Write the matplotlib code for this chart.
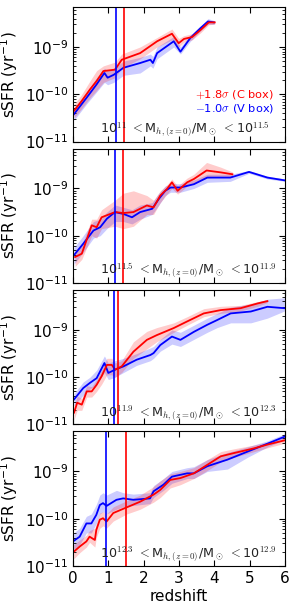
import numpy as np
import matplotlib
matplotlib.use("Agg")
import matplotlib.pyplot as plt

plt.rcParams['axes.unicode_minus'] = False
plt.rcParams['mathtext.fontset'] = 'cm'

# log10 sSFR, per mass bin: redshift, line, band low, band high
p1_red_z = [0.03, 0.25, 0.48, 0.67, 0.86, 1.19, 1.38, 1.90, 2.38, 2.80, 2.99, 3.14, 3.37, 3.61, 3.84, 4.01]
p1_red_m = [-10.35, -10.14, -9.90, -9.72, -9.51, -9.48, -9.27, -9.13, -8.88, -8.72, -8.92, -8.83, -8.79, -8.64, -8.48, -8.48]
p1_red_lo = [-10.5, -10.3, -10.08, -9.92, -9.75, -9.65, -9.45, -9.25, -9.0, -8.85, -9.0, -8.9, -8.85, -8.7, -8.53, -8.52]
p1_red_hi = [-10.22, -10.0, -9.72, -9.5, -9.4, -9.32, -9.15, -9.0, -8.8, -8.62, -8.82, -8.76, -8.72, -8.58, -8.44, -8.45]
p1_blu_z = [0.03, 0.39, 0.67, 0.89, 0.98, 1.15, 1.43, 1.90, 2.19, 2.26, 2.38, 2.85, 3.04, 3.32, 3.61, 3.82, 3.99]
p1_blu_m = [-10.42, -10.07, -9.79, -9.55, -9.65, -9.59, -9.44, -9.34, -9.27, -9.34, -9.13, -8.88, -9.10, -8.81, -8.60, -8.46, -8.48]
p1_blu_lo = [-10.55, -10.2, -9.95, -9.75, -9.8, -9.75, -9.6, -9.55, -9.4, -9.45, -9.25, -9.0, -9.15, -8.88, -8.66, -8.52, -8.52]
p1_blu_hi = [-10.3, -9.95, -9.65, -9.45, -9.5, -9.45, -9.3, -9.22, -9.15, -9.2, -9.0, -8.78, -9.0, -8.75, -8.55, -8.4, -8.44]

p2_red_z = [0.06, 0.25, 0.53, 0.67, 0.81, 1.19, 1.43, 1.71, 2.09, 2.28, 2.47, 2.66, 2.80, 2.96, 3.23, 3.42, 3.78, 4.18, 4.51]
p2_red_m = [-10.45, -10.38, -9.78, -9.82, -9.61, -9.50, -9.52, -9.50, -9.36, -9.40, -9.15, -9.01, -8.87, -9.05, -8.87, -8.80, -8.62, -8.66, -8.70]
p2_red_lo = [-10.65, -10.5, -10.0, -10.05, -9.85, -9.8, -9.85, -9.8, -9.55, -9.55, -9.3, -9.12, -9.0, -9.12, -8.95, -8.9, -8.78, -8.75, -8.75]
p2_red_hi = [-10.3, -10.2, -9.65, -9.65, -9.45, -9.25, -9.1, -9.05, -9.15, -9.25, -9.05, -8.92, -8.8, -8.95, -8.78, -8.7, -8.45, -8.55, -8.65]
p2_blu_z = [0.03, 0.29, 0.58, 0.77, 0.96, 1.19, 1.43, 1.67, 1.90, 2.24, 2.43, 2.61, 2.76, 3.04, 3.42, 3.80, 4.45, 4.98, 5.50, 6.00]
p2_blu_m = [-10.41, -10.17, -9.89, -9.82, -9.64, -9.50, -9.54, -9.61, -9.50, -9.43, -9.22, -9.05, -8.98, -8.98, -8.91, -8.77, -8.77, -8.65, -8.77, -8.83]
p2_blu_lo = [-10.6, -10.35, -10.05, -10.0, -9.85, -9.7, -9.7, -9.75, -9.65, -9.55, -9.35, -9.15, -9.08, -9.08, -9.0, -8.87, -8.85, -8.68, -8.8, -8.85]
p2_blu_hi = [-10.25, -10.0, -9.7, -9.65, -9.5, -9.35, -9.4, -9.45, -9.35, -9.3, -9.1, -8.95, -8.9, -8.9, -8.82, -8.7, -8.7, -8.62, -8.74, -8.8]

p3_red_z = [0.03, 0.12, 0.25, 0.39, 0.53, 0.67, 0.81, 0.96, 1.10, 1.19, 1.38, 1.71, 2.09, 2.37, 2.85, 3.23, 3.70, 4.18, 4.74, 5.22, 5.50]
p3_red_m = [-10.75, -10.54, -10.58, -10.30, -10.30, -10.16, -9.98, -9.74, -9.74, -9.84, -9.77, -9.46, -9.21, -9.11, -8.96, -8.82, -8.65, -8.58, -8.54, -8.44, -8.39]
p3_red_lo = [-10.9, -10.7, -10.7, -10.42, -10.42, -10.3, -10.15, -9.95, -9.95, -10.0, -9.9, -9.6, -9.4, -9.25, -9.05, -8.9, -8.72, -8.65, -8.6, -8.5, -8.42]
p3_red_hi = [-10.6, -10.4, -10.45, -10.18, -10.2, -10.05, -9.85, -9.6, -9.6, -9.7, -9.65, -9.25, -9.03, -8.95, -8.85, -8.72, -8.55, -8.5, -8.48, -8.4, -8.36]
p3_blu_z = [0.03, 0.29, 0.48, 0.67, 0.89, 1.00, 1.19, 1.43, 1.80, 2.19, 2.28, 2.47, 2.80, 3.04, 3.42, 3.80, 4.08, 4.46, 5.03, 5.50, 5.98]
p3_blu_m = [-10.47, -10.23, -10.12, -10.02, -9.70, -9.91, -9.84, -9.77, -9.63, -9.53, -9.49, -9.32, -9.14, -9.21, -9.04, -8.89, -8.79, -8.65, -8.61, -8.51, -8.54]
p3_blu_lo = [-10.6, -10.38, -10.25, -10.15, -9.9, -10.05, -10.0, -9.9, -9.75, -9.65, -9.6, -9.45, -9.3, -9.35, -9.2, -9.05, -8.95, -8.85, -8.85, -8.75, -8.6]
p3_blu_hi = [-10.35, -10.1, -10.0, -9.85, -9.55, -9.7, -9.65, -9.6, -9.5, -9.38, -9.35, -9.2, -9.0, -9.05, -8.9, -8.75, -8.65, -8.52, -8.45, -8.35, -8.32]

p4_red_z = [0.02, 0.19, 0.38, 0.47, 0.62, 0.66, 0.76, 0.85, 0.95, 1.14, 1.52, 1.90, 2.28, 2.47, 2.75, 3.04, 3.42, 3.80, 4.18, 4.56, 5.13, 5.51, 6.00]
p4_red_m = [-10.70, -10.59, -10.48, -10.38, -10.45, -10.24, -10.02, -9.99, -10.06, -9.88, -9.76, -9.64, -9.49, -9.39, -9.18, -9.14, -9.04, -8.86, -8.68, -8.61, -8.51, -8.43, -8.34]
p4_red_lo = [-10.85, -10.72, -10.6, -10.5, -10.6, -10.4, -10.2, -10.15, -10.2, -10.05, -9.9, -9.8, -9.65, -9.55, -9.35, -9.28, -9.15, -8.98, -8.8, -8.7, -8.58, -8.5, -8.4]
p4_red_hi = [-10.55, -10.45, -10.35, -10.25, -10.2, -10.1, -9.88, -9.85, -9.9, -9.75, -9.62, -9.5, -9.32, -9.2, -9.05, -9.0, -8.92, -8.75, -8.58, -8.52, -8.44, -8.38, -8.28]
p4_blu_z = [0.02, 0.19, 0.38, 0.52, 0.66, 0.76, 0.85, 0.95, 1.23, 1.42, 1.71, 2.18, 2.28, 2.56, 2.80, 3.23, 3.42, 3.80, 4.37, 4.94, 5.51, 6.00]
p4_blu_m = [-10.47, -10.38, -10.10, -10.10, -9.92, -9.71, -9.67, -9.73, -9.60, -9.57, -9.60, -9.57, -9.42, -9.28, -9.11, -9.04, -9.04, -8.89, -8.75, -8.58, -8.41, -8.26]
p4_blu_lo = [-10.65, -10.55, -10.3, -10.3, -10.1, -9.9, -9.85, -9.9, -9.8, -9.75, -9.72, -9.68, -9.55, -9.4, -9.25, -9.15, -9.15, -9.0, -8.95, -8.7, -8.48, -8.32]
p4_blu_hi = [-10.3, -10.2, -9.95, -9.9, -9.7, -9.5, -9.45, -9.5, -9.4, -9.45, -9.48, -9.45, -9.3, -9.15, -9.0, -8.92, -8.9, -8.75, -8.6, -8.48, -8.35, -8.2]

# formation-time markers (vertical lines), blue / red
vline_blue = [1.21, 1.20, 1.17, 0.93]
vline_red = [1.43, 1.41, 1.28, 1.50]

bin_labels = [
    r'10$^{11}$ $<$M$_{h,(z=0)}$/M$_\odot$ $<$10$^{11.5}$',
    r'10$^{11.5}$ $<$M$_{h,(z=0)}$/M$_\odot$ $<$10$^{11.9}$',
    r'10$^{11.9}$ $<$M$_{h,(z=0)}$/M$_\odot$ $<$10$^{12.3}$',
    r'10$^{12.3}$ $<$M$_{h,(z=0)}$/M$_\odot$ $<$10$^{12.9}$',
]

panels = [
    (p1_red_z, p1_red_m, p1_red_lo, p1_red_hi, p1_blu_z, p1_blu_m, p1_blu_lo, p1_blu_hi),
    (p2_red_z, p2_red_m, p2_red_lo, p2_red_hi, p2_blu_z, p2_blu_m, p2_blu_lo, p2_blu_hi),
    (p3_red_z, p3_red_m, p3_red_lo, p3_red_hi, p3_blu_z, p3_blu_m, p3_blu_lo, p3_blu_hi),
    (p4_red_z, p4_red_m, p4_red_lo, p4_red_hi, p4_blu_z, p4_blu_m, p4_blu_lo, p4_blu_hi),
]

fig, axes = plt.subplots(4, 1, figsize=(2.93, 6.15), dpi=100, sharex=True)
fig.subplots_adjust(left=0.249, right=0.973, top=0.9886, bottom=0.0797, hspace=0.052)

for i, ax in enumerate(axes):
    rz, rm, rlo, rhi, bz, bm, blo, bhi = panels[i]
    ax.fill_between(bz, 10**np.array(blo), 10**np.array(bhi), color='blue', alpha=0.2, lw=0)
    ax.fill_between(rz, 10**np.array(rlo), 10**np.array(rhi), color='red', alpha=0.2, lw=0)
    ax.plot(bz, 10**np.array(bm), color='blue', lw=1.3)
    ax.plot(rz, 10**np.array(rm), color='red', lw=1.3)
    ax.axvline(vline_blue[i], color='blue', lw=1.2)
    ax.axvline(vline_red[i], color='red', lw=1.2)

    ax.set_yscale('log')
    ax.set_xlim(0, 6)
    ax.set_ylim(1e-11, 7e-9)
    ax.set_yticks([1e-11, 1e-10, 1e-9])
    ax.set_ylabel(r'sSFR (yr$^{\mathdefault{-1}}$)', fontsize=11)
    ax.yaxis.set_label_coords(-0.25, 0.5)
    ax.tick_params(which='both', direction='in', top=True, right=True, labelsize=11)
    ax.tick_params(which='major', length=4)
    ax.tick_params(which='minor', length=2)
    ax.text(0.127, 0.02, bin_labels[i], transform=ax.transAxes, fontsize=9.1,
            color='#222222', ha='left', va='bottom')

axes[0].text(0.948, 0.35, r'$+$1.8$\sigma$ (C box)', transform=axes[0].transAxes,
             color='red', fontsize=8.2, ha='right', va='center')
axes[0].text(0.948, 0.245, r'$-$1.0$\sigma$ (V box)', transform=axes[0].transAxes,
             color='blue', fontsize=8.2, ha='right', va='center')

axes[-1].set_xticks(range(7))
axes[-1].set_xlabel('redshift', fontsize=11, labelpad=2)

fig.savefig('out.png', dpi=100)
